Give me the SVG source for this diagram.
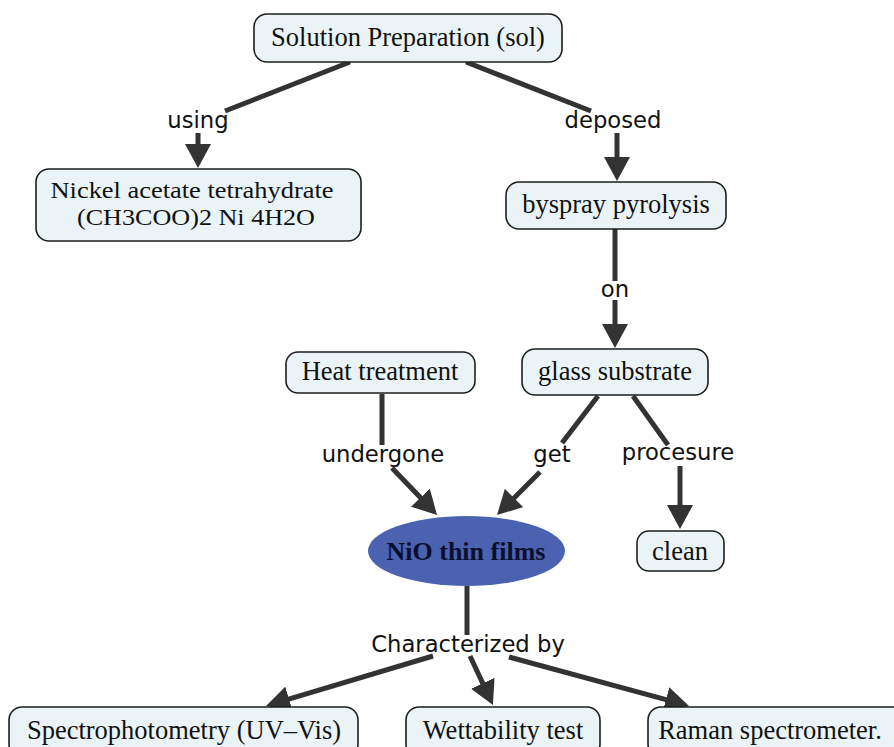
<svg xmlns="http://www.w3.org/2000/svg" width="894" height="747" viewBox="0 0 894 747">
<style>
.box{fill:#eaf4f7;stroke:#1e1e1e;stroke-width:1.6}
.t{font-family:"Liberation Serif","Times New Roman",serif;font-size:26.5px;fill:#111;text-anchor:middle}
.t2{font-family:"Liberation Serif","Times New Roman",serif;font-size:23px;fill:#111;text-anchor:middle}
.lbl{font-family:"DejaVu Sans",Verdana,sans-serif;font-size:22.7px;fill:#111;text-anchor:middle}
.c{stroke:#333;stroke-width:5;fill:none}
.a{marker-end:url(#ah)}
</style>
<defs>
<marker id="ah" markerUnits="userSpaceOnUse" markerWidth="26" markerHeight="26" refX="2" refY="13" orient="auto" viewBox="0 0 26 26">
<path d="M0,0 L24,13 L0,26 Z" fill="#333"/>
</marker>
</defs>
<rect width="894" height="747" fill="#fff"/>
<g id="connectors">
<line class="c" x1="350" y1="62" x2="225" y2="111"/>
<line class="c a" x1="198" y1="133" x2="198" y2="146"/>
<line class="c" x1="466" y1="62" x2="591" y2="111"/>
<line class="c a" x1="617" y1="133" x2="617" y2="159"/>
<line class="c" x1="615" y1="229" x2="615" y2="281"/>
<line class="c a" x1="615" y1="300" x2="615" y2="326"/>
<line class="c" x1="382" y1="394" x2="382" y2="445"/>
<line class="c a" x1="392" y1="468" x2="421.8" y2="499.1"/>
<line class="c" x1="598" y1="396" x2="562" y2="443"/>
<line class="c a" x1="540" y1="472" x2="512.6" y2="499.4"/>
<line class="c" x1="633" y1="396" x2="668" y2="445"/>
<line class="c a" x1="680" y1="466" x2="680" y2="507"/>
<line class="c" x1="467" y1="586" x2="467" y2="635"/>
<line class="c a" x1="433" y1="656" x2="287.1" y2="699.7"/>
<line class="c a" x1="470" y1="656" x2="483.6" y2="685.1"/>
<line class="c a" x1="509" y1="657" x2="667.8" y2="700.2"/>
<text class="lbl" x="198" y="128">using</text>
<text class="lbl" x="613" y="128">deposed</text>
<text class="lbl" x="615" y="297">on</text>
<text class="lbl" x="383" y="462">undergone</text>
<text class="lbl" x="552" y="462">get</text>
<text class="lbl" x="678" y="460">procesure</text>
<text class="lbl" x="468" y="652">Characterized by</text>
</g>
<g id="sol"><rect class="box" x="254" y="14" width="308" height="48" rx="13"/><text class="t" x="408" y="46">Solution Preparation (sol)</text></g>
<g id="nickel"><rect class="box" x="36" y="169" width="325" height="72" rx="13"/><text class="t2" x="192" y="198" textLength="283" lengthAdjust="spacingAndGlyphs">Nickel acetate tetrahydrate</text><text class="t2" x="196" y="225" textLength="238" lengthAdjust="spacingAndGlyphs">(CH3COO)2 Ni 4H2O</text></g>
<g id="byspray"><rect class="box" x="506" y="182" width="220" height="47" rx="13"/><text class="t" x="616" y="213">byspray pyrolysis</text></g>
<g id="heat"><rect class="box" x="286" y="352" width="189" height="41" rx="12"/><text class="t" x="380" y="380">Heat treatment</text></g>
<g id="glass"><rect class="box" x="522" y="349" width="186" height="46" rx="13"/><text class="t" x="615" y="380">glass substrate</text></g>
<g id="nio"><ellipse cx="466.5" cy="551" rx="98.5" ry="35" fill="#4a62b0"/><text x="466" y="560" text-anchor="middle" font-family="'Liberation Serif','Times New Roman',serif" font-size="26" font-weight="bold" fill="#0a0f2e">NiO thin films</text></g>
<g id="clean"><rect class="box" x="637" y="531" width="87" height="40" rx="12"/><text class="t" x="680" y="560">clean</text></g>
<g id="spectro"><rect class="box" x="9" y="707" width="349" height="50" rx="13"/><text class="t" x="184" y="739">Spectrophotometry (UV–Vis)</text></g>
<g id="wett"><rect class="box" x="406" y="707" width="194" height="50" rx="13"/><text class="t" x="503" y="739">Wettability test</text></g>
<g id="raman"><rect class="box" x="648" y="707" width="260" height="50" rx="13"/><text class="t" x="770" y="739">Raman spectrometer.</text></g>
</svg>
